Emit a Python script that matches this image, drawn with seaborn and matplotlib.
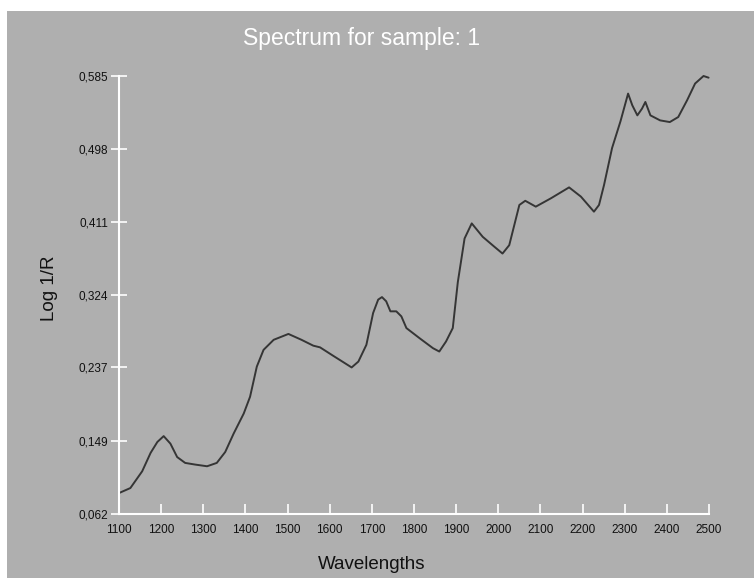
import numpy as np
import pandas as pd
import seaborn as sns
import matplotlib.pyplot as plt
from matplotlib.patches import Rectangle

# -----------------------------
# Data
# -----------------------------
wavelengths = [1100, 1127, 1155, 1175, 1191, 1206, 1222, 1238, 1257, 1281,
               1309, 1332, 1352, 1372, 1396, 1411, 1427, 1443, 1467, 1502,
               1533, 1561, 1577, 1608, 1652, 1668, 1687, 1703, 1715, 1724,
               1734, 1744, 1758, 1770, 1782, 1813, 1845, 1860, 1876, 1892,
               1904, 1920, 1937, 1963, 1991, 2010, 2026, 2050, 2064, 2089,
               2125, 2168, 2196, 2227, 2239, 2251, 2270, 2290, 2308, 2318,
               2330, 2341, 2349, 2361, 2384, 2407, 2427, 2448, 2467, 2487,
               2499]
log_1_r = [0.087, 0.093, 0.113, 0.135, 0.148, 0.155, 0.146, 0.130, 0.123, 0.121,
           0.119, 0.123, 0.136, 0.158, 0.182, 0.202, 0.238, 0.258, 0.270, 0.277,
           0.270, 0.263, 0.261, 0.251, 0.237, 0.244, 0.264, 0.302, 0.318, 0.321,
           0.316, 0.304, 0.304, 0.298, 0.284, 0.272, 0.260, 0.256, 0.268, 0.284,
           0.339, 0.391, 0.409, 0.393, 0.381, 0.373, 0.383, 0.431, 0.436, 0.429,
           0.439, 0.452, 0.441, 0.423, 0.431, 0.455, 0.499, 0.531, 0.564, 0.550,
           0.538, 0.546, 0.554, 0.538, 0.532, 0.530, 0.536, 0.556, 0.576, 0.585,
           0.583]

x_ticks = [1100, 1200, 1300, 1400, 1500, 1600, 1700, 1800, 1900, 2000,
           2100, 2200, 2300, 2400, 2500]
y_ticks = [0.062, 0.149, 0.237, 0.324, 0.411, 0.498, 0.585]
y_tick_labels = ["0,062", "0,149", "0,237", "0,324", "0,411", "0,498", "0,585"]

df = pd.DataFrame({"wavelength": wavelengths, "log_1_r": log_1_r})

# -----------------------------
# Style
# -----------------------------
bg = "#afafaf"
sns.set_style("white", rc={"axes.facecolor": bg})
plt.rcParams["font.family"] = ["Liberation Sans", "DejaVu Sans"]

fig = plt.figure(figsize=(7.54, 5.78), dpi=100, facecolor=bg)
# thin white border along the top and left edges
fig.patches.append(Rectangle((0, 1 - 11 / 578), 1, 11 / 578,
                             transform=fig.transFigure, facecolor="white",
                             edgecolor="none"))
fig.patches.append(Rectangle((0, 0), 7 / 754, 1,
                             transform=fig.transFigure, facecolor="white",
                             edgecolor="none"))

ax = fig.add_axes([119 / 754, 64 / 578, 590 / 754, 438 / 578])
ax.set_facecolor(bg)

sns.lineplot(data=df, x="wavelength", y="log_1_r", ax=ax,
             color="#353535", linewidth=1.4)
for line in ax.lines:
    line.set_clip_on(False)
    line.set_solid_joinstyle("round")

ax.set_xlim(1100, 2500)
ax.set_ylim(0.062, 0.585)
ax.set_xticks(x_ticks)
ax.set_xticklabels([str(t) for t in x_ticks])
ax.set_yticks(y_ticks)
ax.set_yticklabels(y_tick_labels)

for side in ["top", "right"]:
    ax.spines[side].set_visible(False)
for side in ["left", "bottom"]:
    ax.spines[side].set_color("white")
    ax.spines[side].set_linewidth(1.5)

ax.tick_params(axis="x", bottom=True, direction="in", length=7, width=1.2,
               color="white", labelsize=8.5, pad=7, labelcolor="#111111")
ax.tick_params(axis="y", left=True, direction="inout", length=12, width=1.2,
               color="white", labelsize=8.5, pad=2, labelcolor="#111111")

ax.set_xlabel("Wavelengths", fontsize=13.5, color="#111111")
ax.xaxis.set_label_coords(0.429, -0.097)
ax.set_ylabel("Log 1/R", fontsize=13.5, color="#111111")
ax.yaxis.set_label_coords(-0.104, 0.516)

fig.text(362 / 754, 1 - 38 / 578, "Spectrum for sample: 1", color="white",
         fontsize=16.5, ha="center", va="center")

plt.savefig("out.png", dpi=100, facecolor=fig.get_facecolor())
